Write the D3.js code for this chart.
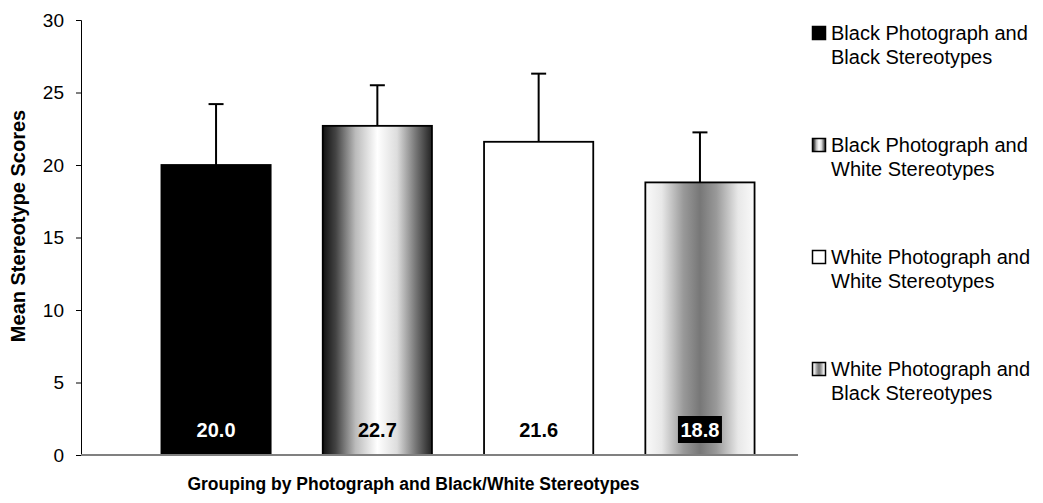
<!DOCTYPE html>
<html><head><meta charset="utf-8">
<script src="https://cdn.jsdelivr.net/npm/d3@7"></script>
<style>body{margin:0;background:#fff}svg{display:block;font-family:"Liberation Sans",Arial,sans-serif}</style>
</head><body><svg id="c" width="1043" height="503"></svg>
<script>
const series = ["Black Photograph and|Black Stereotypes","Black Photograph and|White Stereotypes","White Photograph and|White Stereotypes","White Photograph and|Black Stereotypes"];
const means = [20.0, 22.7, 21.6, 18.8];
const errors = [4.2, 2.8, 4.7, 3.45];
const labels = ["20.0","22.7","21.6","18.8"];
const yTicks = [0,5,10,15,20,25,30];
const fills = ["url(#gBlack)","url(#gCyl)","#ffffff","url(#gGray)"];
const labelColors = ["#fff","#000","#000","#fff"];

const svg = d3.select("#c");
const defs = svg.append("defs");
function grad(id, stops){
  const g = defs.append("linearGradient").attr("id",id).attr("x1","0%").attr("x2","100%").attr("y1","0%").attr("y2","0%");
  stops.forEach(s=>g.append("stop").attr("offset",s[0]).attr("stop-color",s[1]));
}
grad("gBlack",[[0,"#000"],[1,"#000"]]);
grad("gCyl",[[0,"#111"],[0.12,"#444"],[0.3,"#bbb"],[0.5,"#fff"],[0.68,"#ddd"],[0.85,"#777"],[1,"#222"]]);
grad("gGray",[[0,"#fafafa"],[0.15,"#e8e8e8"],[0.35,"#999"],[0.5,"#777"],[0.65,"#999"],[0.85,"#e8e8e8"],[1,"#fafafa"]]);

const y = d3.scaleLinear().domain([0,30]).range([455,20]);
const x = d3.scaleBand().domain(d3.range(series.length)).range([135.4,780.6]).paddingInner(0.323).paddingOuter(0.1615);

// y axis
const ya = svg.append("g").attr("transform","translate(81,0)")
  .call(d3.axisLeft(y).tickValues(yTicks).tickSize(5).tickPadding(12));
ya.select(".domain").attr("stroke","#000").attr("stroke-width",1);
ya.selectAll(".tick line").attr("stroke","#000");
ya.selectAll(".tick text").attr("font-size",19).attr("fill","#000").attr("font-family","Liberation Sans, Arial, sans-serif");

// bars
const bars = svg.append("g");
bars.selectAll("rect").data(means).join("rect")
  .attr("x",(d,i)=>x(i)).attr("width",x.bandwidth())
  .attr("y",d=>y(d)).attr("height",d=>y(0)-y(d))
  .attr("fill",(d,i)=>fills[i]).attr("stroke","#000").attr("stroke-width",1.8);

// error bars
const eb = svg.append("g").attr("stroke","#000").attr("stroke-width",2);
means.forEach((m,i)=>{
  const cx = x(i)+x.bandwidth()/2;
  eb.append("line").attr("x1",cx).attr("x2",cx).attr("y1",y(m)).attr("y2",y(m+errors[i]));
  eb.append("line").attr("x1",cx-7.5).attr("x2",cx+7.5).attr("y1",y(m+errors[i])).attr("y2",y(m+errors[i]));
});

// baseline
svg.append("line").attr("x1",81).attr("x2",798).attr("y1",y(0)).attr("y2",y(0)).attr("stroke","#808080").attr("stroke-width",2);

// data labels
means.forEach((m,i)=>{
  const cx = x(i)+x.bandwidth()/2;
  if(i===3){
    svg.append("rect").attr("x",cx-22).attr("y",416).attr("width",44).attr("height",27).attr("fill","#000");
  }
  svg.append("text").attr("x",cx).attr("y",436.5).attr("text-anchor","middle")
    .attr("font-size",20).attr("font-weight","bold").attr("fill",labelColors[i]).text(labels[i]);
});

// axis titles
svg.append("text").attr("transform","translate(25,226) rotate(-90)").attr("text-anchor","middle")
  .attr("font-size",20).attr("font-weight","bold").text("Mean Stereotype Scores");
svg.append("text").attr("x",413.5).attr("y",490).attr("text-anchor","middle")
  .attr("font-size",17.5).attr("font-weight","bold").text("Grouping by Photograph and Black/White Stereotypes");

// legend
const lg = svg.append("g");
series.forEach((s,i)=>{
  const top = 26 + i*112;
  lg.append("rect").attr("x",812.5).attr("y",top+0.5).attr("width",13).attr("height",13)
    .attr("fill",fills[i]).attr("stroke","#000").attr("stroke-width",1.5);
  const parts = s.split("|");
  parts.forEach((p,j)=>{
    lg.append("text").attr("x",831).attr("y",top+13.5+j*24).attr("font-size",20).attr("fill","#000").text(p);
  });
});
</script></body></html>
